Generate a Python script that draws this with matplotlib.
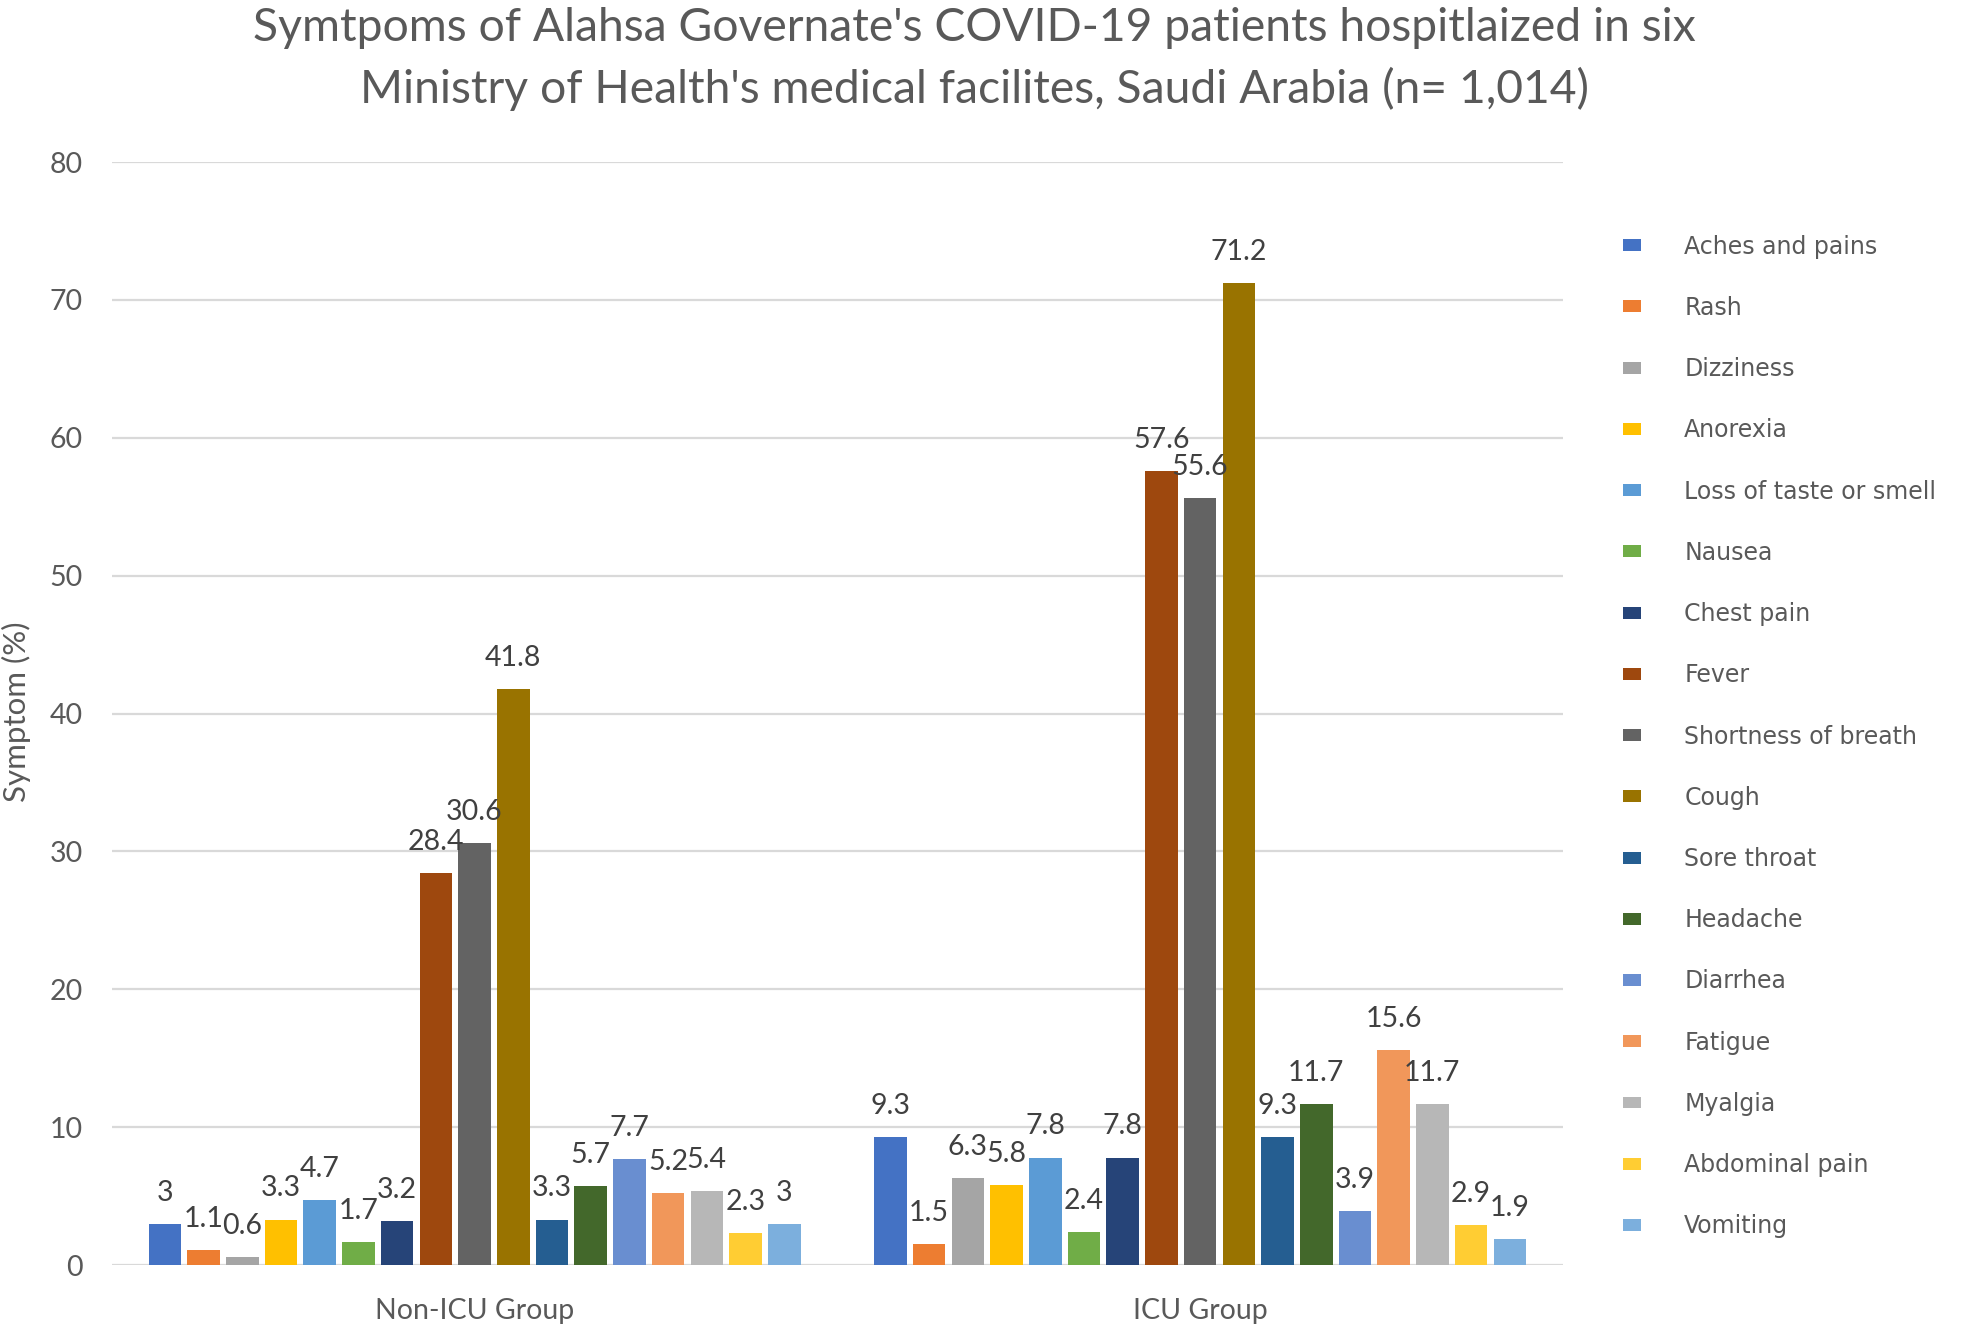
import numpy as np
import matplotlib
matplotlib.use('Agg')
import matplotlib.pyplot as plt

groups = ['Non-ICU Group', 'ICU Group']
symptoms = ['Aches and pains', 'Rash', 'Dizziness', 'Anorexia', 'Loss of taste or smell',
            'Nausea', 'Chest pain', 'Fever', 'Shortness of breath', 'Cough', 'Sore throat',
            'Headache', 'Diarrhea', 'Fatigue', 'Myalgia', 'Abdominal pain', 'Vomiting']
non_icu = [3, 1.1, 0.6, 3.3, 4.7, 1.7, 3.2, 28.4, 30.6, 41.8, 3.3, 5.7, 7.7, 5.2, 5.4, 2.3, 3]
icu = [9.3, 1.5, 6.3, 5.8, 7.8, 2.4, 7.8, 57.6, 55.6, 71.2, 9.3, 11.7, 3.9, 15.6, 11.7, 2.9, 1.9]
colors = ['#4472C4', '#ED7D31', '#A5A5A5', '#FFC000', '#5B9BD5', '#70AD47', '#264478',
          '#9E480E', '#636363', '#997300', '#255E91', '#43682B', '#698ED0', '#F1975A',
          '#B7B7B7', '#FFCD33', '#7CAFDD']

TXT = '#595959'
plt.rcParams['font.family'] = ['Lato', 'DejaVu Sans']

fig = plt.figure(figsize=(19.61, 13.28), dpi=100)
ax = fig.add_axes([0.057, 0.0474, 0.74, 0.8306])

x = np.arange(len(groups))
n = len(symptoms)
slot = 0.907 / n
bar_w = 0.0448
for i, (name, col) in enumerate(zip(symptoms, colors)):
    vals = [non_icu[i], icu[i]]
    bars = ax.bar(x + (i - (n - 1) / 2) * slot, vals, bar_w, color=col, label=name)
    ax.bar_label(bars, fmt='%g', padding=13, fontsize=20.5, color='#404040')

ax.set_xlim(-0.5, 1.5)
ax.set_ylim(0, 80)
ax.set_yticks(range(0, 81, 10))
ax.set_xticks(x)
ax.set_xticklabels(groups)
ax.tick_params(axis='both', length=0, labelsize=20.5, labelcolor=TXT)
ax.tick_params(axis='y', pad=21)
ax.tick_params(axis='x', pad=23.5)
ax.yaxis.grid(True, color='#d9d9d9', linewidth=1.6)
ax.set_axisbelow(True)
for s in ax.spines.values():
    s.set_visible(False)

# y axis title
fig.text(0.0085, 0.464, 'Symptom (%)', rotation=90, ha='center', va='center',
         fontsize=22.5, color=TXT)

fig.text(0.497, 0.9556,
         "Symtpoms of Alahsa Governate's COVID-19 patients hospitlaized in six\n"
         "Ministry of Health's medical facilites, Saudi Arabia (n= 1,014)",
         ha='center', va='center', fontsize=33.3, color=TXT, linespacing=1.5)

fig.legend(loc='upper left', bbox_to_anchor=(0.8276, 0.8233), frameon=False,
           prop={'family': 'DejaVu Sans', 'size': 17}, labelcolor=TXT,
           handlelength=0.75, handleheight=0.4, handletextpad=1.85,
           labelspacing=1.577, borderpad=0, borderaxespad=0)

plt.savefig('out.png', dpi=100)
